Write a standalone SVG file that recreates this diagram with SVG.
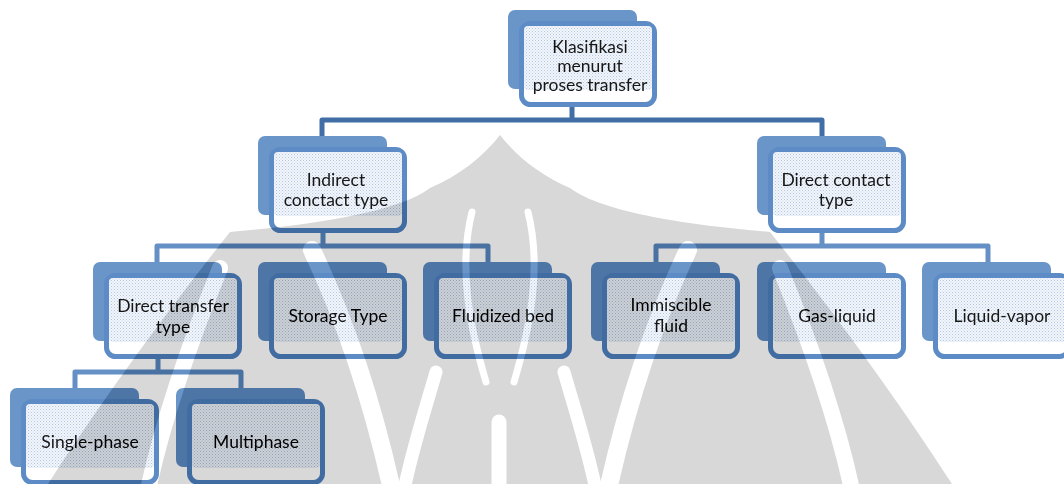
<svg xmlns="http://www.w3.org/2000/svg" width="1064" height="484" viewBox="0 0 1064 484">
  <style>
    .back { fill: #6a95c8; }
    .front { fill: #ffffff; stroke: #5d8bc5; stroke-width: 5; }
    .tex { fill: url(#dots); }
    .link { fill: none; stroke: #6590c6; stroke-width: 5; stroke-linejoin: round; }
    .link.main { stroke: #416ea6; }
    .label { font-family: Lato, "Liberation Sans", sans-serif; font-size: 17.5px; fill: #161616; text-anchor: middle; }
    .gap { fill: none; stroke: #ffffff; stroke-linecap: round; }
  </style>
  <defs>
    <pattern id="dots" width="3" height="3" patternUnits="userSpaceOnUse">
      <rect width="3" height="3" fill="#f2f6fb"/>
      <rect width="1" height="1" fill="#b3c7e3"/>
      <rect x="1.5" y="1.5" width="1" height="1" fill="#c4d4ea"/>
    </pattern>
    <!-- one hierarchy box: shaded tab behind, framed card in front -->
    <g id="box">
      <rect class="back" x="0" y="0" width="129" height="79" rx="7"/>
      <rect class="front" x="13.5" y="13.5" width="133" height="81" rx="9"/>
      <rect class="tex" x="16" y="16" width="128" height="64" rx="4"/>
    </g>
    <!-- left half of the emblem's light grooves; the right half mirrors it -->
    <g id="emblem-half">
      <path class="gap" stroke-width="18" d="M312,250 C345,320 372,400 392,490"/>
      <path class="gap" stroke-width="16" d="M220,268 C195,330 165,410 148,490"/>
      <path class="gap" stroke-width="13" d="M436,372 C425,410 412,450 404,490"/>
      <path class="gap" stroke-width="7" d="M472,212 C458,268 470,328 486,382"/>
    </g>
    <!-- emblem silhouette; fill comes from the referencing element -->
    <g id="emblem-shape">
      <path d="M500,135 C482,158 458,176 430,188 C396,214 300,226 230,232 C168,310 102,400 48,484 L952,484 C898,400 832,310 770,232 C700,226 604,214 570,188 C542,176 518,158 500,135 Z"/>
      <use href="#emblem-half"/>
      <use href="#emblem-half" transform="translate(1000,0) scale(-1,1)"/>
      <path class="gap" stroke-width="15" d="M499,422 V490"/>
    </g>
  </defs>

  <rect width="1064" height="484" fill="#ffffff"/>

  <!-- connectors -->
  <g id="connectors">
    <path class="link main" d="M572,106 V120 M322,138 V120 H822 V138"/>
    <path class="link" d="M323,232 V246 M157,264 V246 H488 V264"/>
    <path class="link" d="M822,232 V246 M656,264 V246 H988 V264"/>
    <path class="link" d="M158,358 V372 M75,390 V372 H241 V390"/>
  </g>

  <!-- nodes -->
  <g id="n-root">
    <use href="#box" x="508" y="10"/>
    <text class="label" x="590" y="53">Klasifikasi</text>
    <text class="label" x="590" y="72">menurut</text>
    <text class="label" x="590" y="91">proses transfer</text>
  </g>
  <g id="n-indirect">
    <use href="#box" x="258" y="136"/>
    <text class="label" x="336" y="186">Indirect</text>
    <text class="label" x="336" y="206">conctact type</text>
  </g>
  <g id="n-direct-contact">
    <use href="#box" x="757" y="136"/>
    <text class="label" x="836" y="186">Direct contact</text>
    <text class="label" x="836" y="206">type</text>
  </g>
  <g id="n-direct-transfer">
    <use href="#box" x="93" y="262"/>
    <text class="label" x="173" y="312">Direct transfer</text>
    <text class="label" x="173" y="333">type</text>
  </g>
  <g id="n-storage">
    <use href="#box" x="258" y="262"/>
    <text class="label" x="338" y="322">Storage Type</text>
  </g>
  <g id="n-fluidized">
    <use href="#box" x="423" y="262"/>
    <text class="label" x="503" y="322">Fluidized bed</text>
  </g>
  <g id="n-immiscible">
    <use href="#box" x="591" y="262"/>
    <text class="label" x="671" y="311">Immiscible</text>
    <text class="label" x="671" y="332">fluid</text>
  </g>
  <g id="n-gas-liquid">
    <use href="#box" x="757" y="262"/>
    <text class="label" x="837" y="322">Gas-liquid</text>
  </g>
  <g id="n-liquid-vapor">
    <use href="#box" x="922" y="262"/>
    <text class="label" x="1002" y="322">Liquid-vapor</text>
  </g>
  <g id="n-single">
    <use href="#box" x="10" y="388"/>
    <text class="label" x="90" y="448">Single-phase</text>
  </g>
  <g id="n-multi">
    <use href="#box" x="176" y="388"/>
    <text class="label" x="256" y="448">Multiphase</text>
  </g>

  <!-- faint emblem printed over the page: deepens the blues, greys the white -->
  <g id="emblem">
    <use href="#emblem-shape" fill="#e8e8e8" style="mix-blend-mode: color-burn;"/>
    <use href="#emblem-shape" fill="#d8d8d8" style="mix-blend-mode: multiply;"/>
  </g>
</svg>
